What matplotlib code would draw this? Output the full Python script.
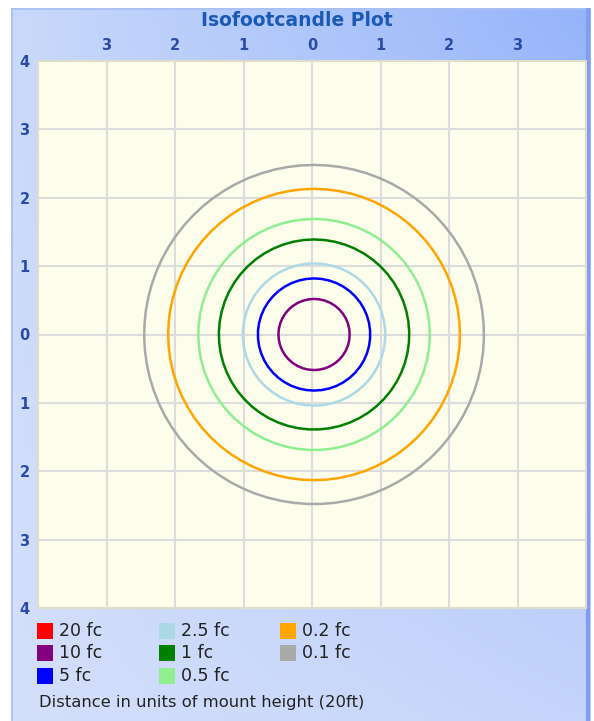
import numpy as np
import matplotlib
matplotlib.use("Agg")
import matplotlib.pyplot as plt
from matplotlib.patches import CirclePolygon, Rectangle

# data
levels = ["20 fc", "10 fc", "5 fc", "2.5 fc", "1 fc", "0.5 fc", "0.2 fc", "0.1 fc"]
colors = ["#ff0000", "#800080", "#0000ff", "#add8e6", "#008000", "#90ee90", "#ffa500", "#a9a9a9"]
radii = [None, 0.52, 0.82, 1.04, 1.39, 1.69, 2.13, 2.48]   # mount heights, 20 fc not drawn
ticks = [-3, -2, -1, 0, 1, 2, 3]
yticks = [-4, -3, -2, -1, 0, 1, 2, 3, 4]

W, H = 594, 721
fig = plt.figure(figsize=(W / 100, H / 100), dpi=100)
fig.patch.set_facecolor("white")

# blue gradient panel behind everything
bg = fig.add_axes([11 / W, 0, 580 / W, (H - 8) / H])
bg.set_axis_off()
c_tl = np.array([201, 217, 251]) / 255
c_tr = np.array([150, 180, 250]) / 255
c_bl = np.array([212, 223, 251]) / 255
c_br = np.array([196, 212, 250]) / 255
u = np.linspace(0, 1, 60)[None, :, None]
v = np.linspace(0, 1, 80)[:, None, None]
grad = (1 - v) * ((1 - u) * c_tl + u * c_tr) + v * ((1 - u) * c_bl + u * c_br)
bg.imshow(grad, aspect="auto", extent=[0, 1, 0, 1], interpolation="bilinear")
bg.set_xlim(0, 1)
bg.set_ylim(0, 1)
bg.plot([0.001, 0.001], [0, 1], color="#a8bff2", lw=1.2)
bg.plot([0, 1], [0.999, 0.999], color="#a8bff2", lw=1.2)
bg.plot([0.995, 0.995], [0, 1], color="#7f9ef2", lw=3)

fig.text(297 / W, 1 - 21 / H, "Isofootcandle Plot", ha="center", va="center",
         fontsize=13.5, fontweight="bold", color="#1a5ab4")

ax = fig.add_axes([38 / W, (H - 608) / H, 548 / W, 547 / H])
ax.set_facecolor("#fdfdec")
ax.set_xlim(-4, 4)
ax.set_ylim(-4, 4)
for s in ax.spines.values():
    s.set_color("#e0ddc8")
    s.set_linewidth(1.5)

for t in ticks:
    ax.axvline(t, color="#dcdcdc", lw=1.5, zorder=1)
for t in yticks[1:-1]:
    ax.axhline(t, color="#dcdcdc", lw=1.5, zorder=1)

for r, c in zip(radii, colors):
    if r is None:
        continue
    ax.add_patch(CirclePolygon((0.03, 0), r, resolution=int(30 + 20 * r),
                               fill=False, edgecolor=c, lw=1.8, zorder=3))

ax.xaxis.tick_top()
ax.set_xticks(ticks)
ax.set_xticklabels([str(abs(t)) for t in ticks])
ax.set_yticks(yticks)
ax.set_yticklabels([str(abs(t)) for t in yticks])
ax.tick_params(length=0, labelsize=10.5, labelcolor="#2a4aa8", pad=6)
for lab in ax.get_xticklabels() + ax.get_yticklabels():
    lab.set_fontweight("bold")

# legend, three columns
col_x = [37, 159, 280]
row_y = [631, 653, 676]
for i, (name, c) in enumerate(zip(levels, colors)):
    cx = col_x[i // 3]
    ry = row_y[i % 3]
    fig.patches.append(Rectangle((cx / W, 1 - (ry + 8) / H), 16 / W, 16 / H,
                                 transform=fig.transFigure, facecolor=c, edgecolor="none"))
    fig.text((cx + 22) / W, 1 - ry / H, name, ha="left", va="center",
             fontsize=12.5, color="#222222")
fig.text(39 / W, 1 - 703 / H, "Distance in units of mount height (20ft)", ha="left",
         va="center", fontsize=11.8, color="#222222")

fig.savefig("out.png", dpi=100)
